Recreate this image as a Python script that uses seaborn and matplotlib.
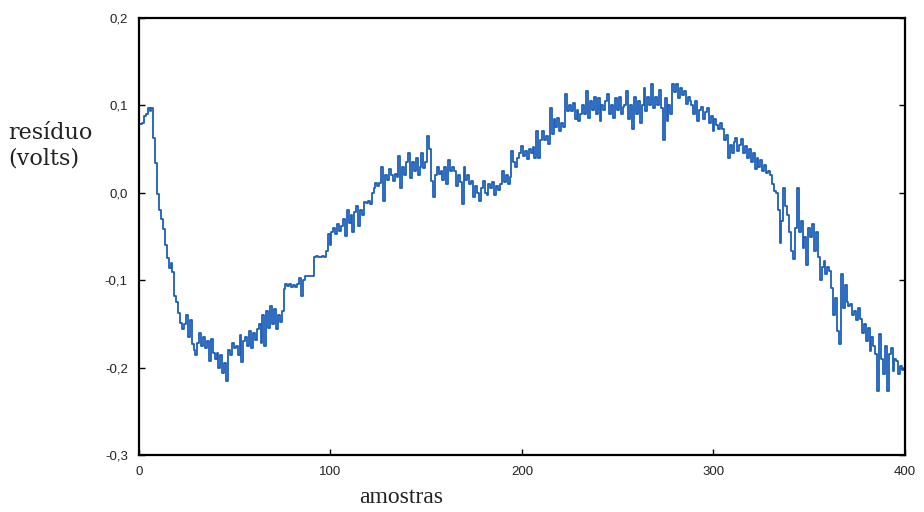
import matplotlib
matplotlib.use("Agg")
import matplotlib.pyplot as plt
from matplotlib.ticker import FuncFormatter
import pandas as pd
import seaborn as sns

# residual voltage for each sample 0..400
residuo = [
    # 0-9
    0.079, 0.079, 0.080, 0.088, 0.090, 0.097, 0.094, 0.097, 0.063, 0.034,
    # 10-19
    -0.001, -0.020, -0.030, -0.041, -0.060, -0.075, -0.086, -0.080, -0.091, -0.118,
    # 20-29
    -0.125, -0.137, -0.149, -0.156, -0.150, -0.140, -0.165, -0.145, -0.173, -0.180,
    # 30-39
    -0.186, -0.172, -0.160, -0.175, -0.165, -0.178, -0.170, -0.192, -0.167, -0.183,
    # 40-49
    -0.190, -0.183, -0.200, -0.186, -0.206, -0.195, -0.215, -0.180, -0.186, -0.172,
    # 50-59
    -0.178, -0.175, -0.185, -0.163, -0.194, -0.170, -0.165, -0.175, -0.158, -0.178,
    # 60-69
    -0.160, -0.168, -0.156, -0.150, -0.172, -0.140, -0.175, -0.135, -0.155, -0.130,
    # 70-79
    -0.150, -0.133, -0.156, -0.140, -0.148, -0.135, -0.110, -0.104, -0.107, -0.104,
    # 80-89
    -0.108, -0.106, -0.108, -0.104, -0.097, -0.118, -0.100, -0.095, -0.095, -0.095,
    # 90-99
    -0.095, -0.095, -0.074, -0.072, -0.074, -0.073, -0.072, -0.074, -0.066, -0.047,
    # 100-109
    -0.060, -0.045, -0.040, -0.047, -0.036, -0.044, -0.038, -0.030, -0.049, -0.020,
    # 110-119
    -0.035, -0.025, -0.045, -0.022, -0.015, -0.038, -0.020, -0.025, -0.010, -0.012,
    # 120-129
    -0.009, -0.013, 0.000, 0.005, 0.011, 0.008, 0.011, 0.029, -0.009, 0.020,
    # 130-139
    0.015, 0.027, 0.020, 0.014, 0.022, 0.018, 0.042, 0.006, 0.030, 0.020,
    # 140-149
    0.035, 0.046, 0.017, 0.035, 0.025, 0.040, 0.020, 0.030, 0.045, 0.028,
    # 150-159
    0.035, 0.065, 0.050, 0.014, -0.005, 0.020, 0.029, 0.022, 0.025, 0.015,
    # 160-169
    0.029, 0.010, 0.037, 0.025, 0.030, 0.025, 0.008, 0.020, 0.012, -0.013,
    # 170-179
    0.029, 0.015, 0.020, 0.010, 0.014, -0.005, 0.008, 0.000, -0.009, 0.005,
    # 180-189
    0.014, 0.000, -0.003, 0.010, 0.005, 0.012, -0.002, 0.008, 0.003, 0.010,
    # 190-199
    0.025, 0.012, 0.020, 0.010, 0.018, 0.048, 0.035, 0.029, 0.040, 0.045,
    # 200-209
    0.054, 0.042, 0.048, 0.039, 0.050, 0.045, 0.052, 0.040, 0.071, 0.040,
    # 210-219
    0.060, 0.071, 0.060, 0.065, 0.056, 0.097, 0.067, 0.085, 0.075, 0.086,
    # 220-229
    0.071, 0.080, 0.075, 0.113, 0.094, 0.100, 0.094, 0.103, 0.085, 0.095,
    # 230-239
    0.082, 0.090, 0.100, 0.090, 0.117, 0.086, 0.105, 0.095, 0.110, 0.090,
    # 240-249
    0.109, 0.082, 0.100, 0.095, 0.105, 0.113, 0.090, 0.100, 0.086, 0.108,
    # 250-259
    0.095, 0.110, 0.090, 0.098, 0.100, 0.117, 0.085, 0.100, 0.073, 0.110,
    # 260-269
    0.090, 0.105, 0.080, 0.100, 0.120, 0.094, 0.110, 0.100, 0.125, 0.097,
    # 270-279
    0.110, 0.100, 0.118, 0.097, 0.060, 0.109, 0.082, 0.100, 0.090, 0.125,
    # 280-289
    0.115, 0.125, 0.109, 0.120, 0.112, 0.117, 0.102, 0.110, 0.105, 0.100,
    # 290-299
    0.090, 0.105, 0.082, 0.095, 0.098, 0.085, 0.092, 0.097, 0.080, 0.088,
    # 300-309
    0.071, 0.085, 0.078, 0.073, 0.080, 0.073, 0.060, 0.066, 0.040, 0.055,
    # 310-319
    0.045, 0.058, 0.063, 0.048, 0.055, 0.062, 0.045, 0.054, 0.040, 0.050,
    # 320-329
    0.035, 0.045, 0.027, 0.040, 0.030, 0.037, 0.025, 0.032, 0.023, 0.025,
    # 330-339
    0.020, 0.010, 0.002, 0.000, -0.020, -0.057, -0.032, 0.005, -0.015, -0.025,
    # 340-349
    -0.045, -0.066, -0.076, -0.040, 0.005, -0.045, -0.032, -0.063, -0.050, -0.083,
    # 350-359
    -0.040, -0.050, -0.036, -0.066, -0.045, -0.074, -0.100, -0.085, -0.078, -0.093,
    # 360-369
    -0.085, -0.090, -0.109, -0.140, -0.120, -0.158, -0.173, -0.093, -0.132, -0.105,
    # 370-379
    -0.125, -0.130, -0.127, -0.140, -0.135, -0.146, -0.132, -0.144, -0.160, -0.150,
    # 380-389
    -0.170, -0.155, -0.181, -0.165, -0.175, -0.184, -0.227, -0.161, -0.190, -0.207,
    # 390-399
    -0.175, -0.227, -0.184, -0.177, -0.204, -0.190, -0.192, -0.207, -0.198, -0.203,
    # 400
    -0.200,
]
amostras = list(range(len(residuo)))

x_ticks = [0, 100, 200, 300, 400]
y_ticks = [-0.3, -0.2, -0.1, 0.0, 0.1, 0.2]

df = pd.DataFrame({"amostras": amostras, "residuo": residuo})

sns.set_theme(style="white")
plt.rcParams["font.family"] = ["Liberation Sans", "DejaVu Sans"]

fig = plt.figure(figsize=(9.24, 5.12), dpi=100)
ax = fig.add_axes([0.1504, 0.1113, 0.829, 0.8535])

sns.lineplot(data=df, x="amostras", y="residuo", ax=ax, color="#1c5fba",
             linewidth=1.3, drawstyle="steps-mid", estimator=None)

ax.set_xlim(0, 400)
ax.set_ylim(-0.3, 0.2)
ax.set_xticks(x_ticks)
ax.set_yticks(y_ticks)
ax.xaxis.set_major_formatter(FuncFormatter(lambda v, p: f"{v:.0f}"))
ax.yaxis.set_major_formatter(
    FuncFormatter(lambda v, p: f"{v:.1f}".replace(".", ",").replace("-0,0", "0,0")))
ax.tick_params(direction="in", length=4, width=1, colors="black",
               labelsize=9.5, pad=8)
ax.yaxis.set_ticks_position("both")
ax.xaxis.set_ticks_position("bottom")
for lab in ax.get_xticklabels() + ax.get_yticklabels():
    lab.set_color("#222222")
for s in ax.spines.values():
    s.set_color("black")
    s.set_linewidth(1.6)
ax.set_xlabel("")
ax.set_ylabel("")

fig.text(0.009, 0.715, "resíduo\n(volts)", family="DejaVu Serif", fontsize=16,
         ha="left", va="center", color="#222222", linespacing=1.2)
fig.text(0.434, 0.008, "amostras", family="Liberation Serif", fontsize=17,
         ha="center", va="bottom", color="#222222")

fig.savefig("out.png", dpi=100, facecolor="white")
